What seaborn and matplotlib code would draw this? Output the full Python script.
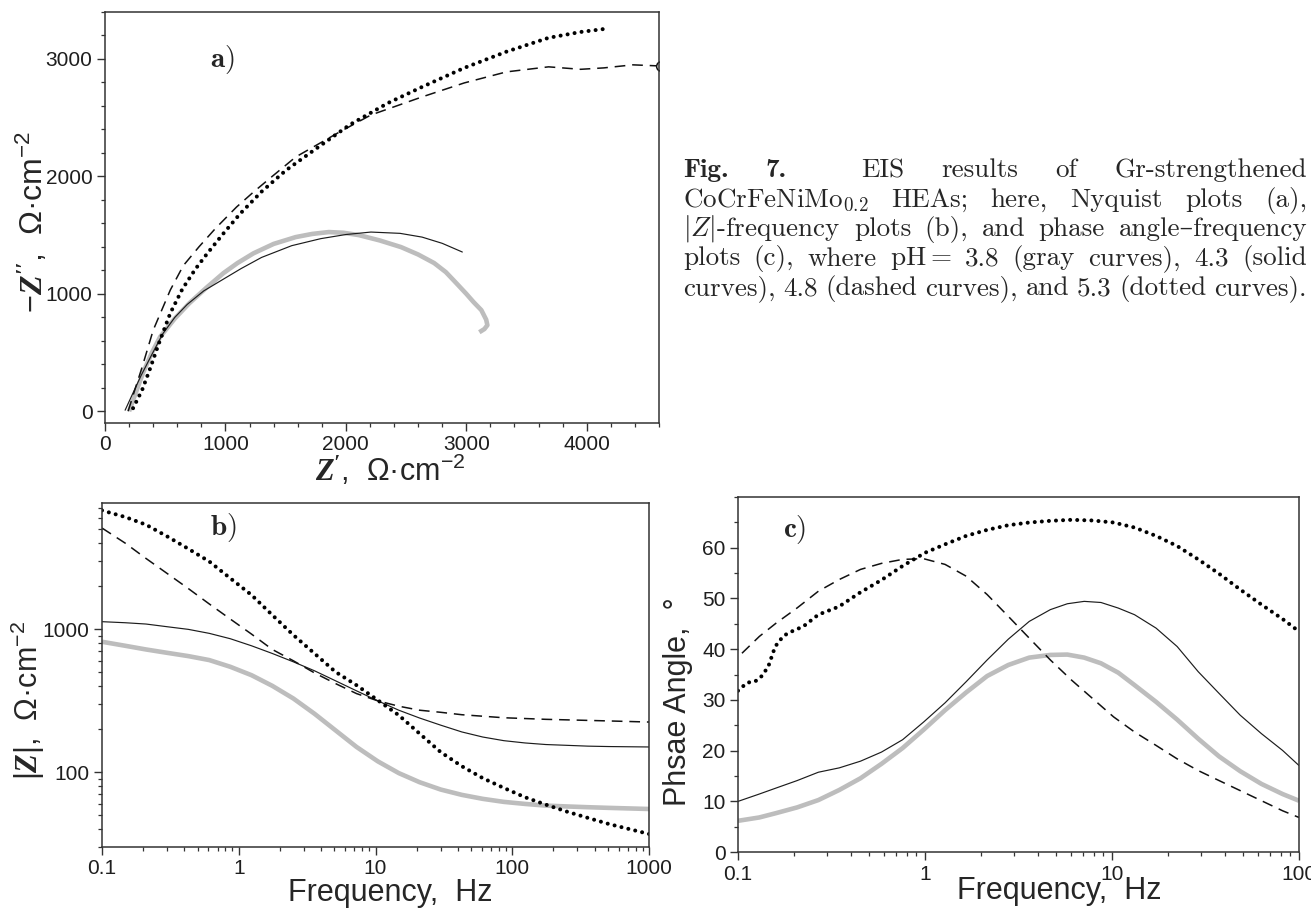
import matplotlib
matplotlib.use("Agg")
import matplotlib.pyplot as plt
import matplotlib.transforms as mtransforms
from matplotlib.ticker import MultipleLocator, LogLocator, NullFormatter, FixedLocator, FixedFormatter
import pandas as pd
import seaborn as sns

W, H = 1311, 908

# ---------------- (a) Nyquist plots: Z' and -Z'' in Ohm*cm^-2 ----------------
nyq_38_re = [200, 260, 317, 390, 458, 580, 700, 840, 983, 1100, 1233, 1400, 1583, 1720, 1858, 1980, 2108,
             2280, 2458, 2600, 2733, 2830, 2917, 3000, 3060, 3125, 3165, 3175, 3150, 3108]
nyq_38_im = [0, 170, 330, 500, 634, 790, 920, 1050, 1176, 1262, 1345, 1425, 1483, 1510, 1526, 1520, 1500,
             1455, 1398, 1335, 1262, 1185, 1091, 1000, 930, 861, 780, 733, 700, 673]

nyq_43_re = [167, 230, 300, 390, 480, 580, 683, 820, 970, 1130, 1300, 1550, 1792, 2000, 2208, 2450, 2633, 2800, 2967]
nyq_43_im = [9, 150, 305, 485, 660, 800, 910, 1025, 1117, 1215, 1310, 1410, 1470, 1505, 1526, 1515, 1483, 1430, 1356]

nyq_48_re = [192, 250, 308, 400, 542, 650, 780, 920, 1092, 1233, 1400, 1583, 1933, 2208, 2633, 2983, 3333,
             3683, 3950, 4142, 4383, 4620]
nyq_48_im = [0, 190, 375, 690, 1032, 1240, 1400, 1560, 1739, 1867, 2010, 2165, 2370, 2523, 2677, 2796, 2890,
             2933, 2912, 2924, 2950, 2940]

nyq_53_re = [233, 308, 375, 442, 542, 642, 750, 850, 980, 1120, 1300, 1500, 1717, 2033, 2350, 2633, 2983,
             3333, 3683, 3950, 4150]
nyq_53_im = [26, 180, 365, 563, 835, 1040, 1210, 1345, 1510, 1680, 1870, 2050, 2210, 2440, 2625, 2762, 2924,
             3062, 3180, 3230, 3256]

# ---------------- (b) |Z| vs frequency ----------------
bode_f = [0.1, 0.148, 0.210, 0.300, 0.428, 0.609, 0.867, 1.24, 1.76, 2.51, 3.58, 5.10, 7.27, 10.4, 14.8,
          21.0, 30.0, 42.8, 60.9, 86.8, 124, 176, 251, 358, 510, 1000]
bode_38_z = [815, 764, 720, 682, 647, 607, 545, 476, 401, 327, 256, 196, 150, 119, 98.5,
             85.1, 75.6, 69.4, 65.1, 62.0, 60.0, 58.4, 57.6, 56.9, 56.3, 55.3]
bode_43_z = [1126, 1107, 1084, 1038, 995, 933, 856, 764, 675, 590, 511, 435, 370, 315, 271,
             239, 213, 191, 176, 166, 160, 156, 154, 152, 151, 150]
bode_48_z = [5080, 3981, 3112, 2443, 1918, 1497, 1175, 922, 720, 600, 494, 416, 354, 315, 289,
             271, 262, 252, 246, 240, 237, 234, 232, 230, 228, 224]
bode_53_z = [6745, 6063, 5358, 4437, 3636, 2965, 2265, 1730, 1253, 908, 675, 502, 405, 318, 250,
             186, 138, 110, 90.8, 77.6, 66.8, 59.3, 53.0, 47.9, 43.4, 37.0]

# ---------------- (c) phase angle vs frequency ----------------
phase_f = [0.1, 0.130, 0.160, 0.207, 0.269, 0.348, 0.452, 0.585, 0.759, 0.984, 1.28, 1.66, 2.15, 2.79,
           3.61, 4.68, 5.77, 7.10, 8.73, 10.8, 13.2, 17.2, 22.3, 28.9, 37.4, 48.5, 63.0, 81.7, 100]
phase_38_p = [6.15, 6.81, 7.67, 8.79, 10.24, 12.23, 14.54, 17.38, 20.49, 24.12, 27.96, 31.46, 34.70, 36.88,
              38.33, 38.86, 38.93, 38.33, 37.21, 35.36, 32.91, 29.61, 26.11, 22.34, 18.84, 15.93, 13.42,
              11.43, 10.11]
phase_43_p = [9.98, 11.43, 12.62, 14.08, 15.73, 16.59, 17.91, 19.70, 22.14, 25.64, 29.41, 33.58, 37.87, 41.97,
              45.47, 47.79, 48.95, 49.42, 49.20, 48.10, 46.79, 44.15, 40.52, 35.56, 31.26, 26.97, 23.33,
              20.03, 17.05]

phase_48_f = [0.105, 0.130, 0.160, 0.207, 0.269, 0.348, 0.452, 0.585, 0.759, 0.984, 1.28, 1.66, 2.15, 2.79,
              3.61, 4.68, 6.07, 7.87, 10.2, 13.2, 17.2, 22.3, 28.9, 37.4, 48.5, 63.0, 81.7, 100]
phase_48_p = [39.19, 42.50, 45.14, 48.12, 51.42, 53.73, 55.72, 56.91, 57.70, 57.83, 56.71, 54.39, 50.76, 46.46,
              42.17, 37.87, 33.91, 30.27, 26.64, 23.66, 21.02, 18.37, 16.06, 14.08, 12.10, 10.11, 8.13, 6.81]

phase_53_f = [0.1, 0.112, 0.123, 0.132, 0.145, 0.158, 0.174, 0.186, 0.224, 0.269, 0.347, 0.447, 0.589, 0.759,
              1.0, 1.28, 1.66, 2.15, 2.79, 3.61, 4.68, 6.07, 7.87, 10.2, 13.2, 17.2, 22.3, 28.9, 37.4,
              48.5, 63.0, 81.7, 100]
phase_53_p = [31.8, 33.4, 33.6, 34.4, 36.5, 40.5, 42.5, 43.2, 44.5, 46.8, 48.4, 51.1, 53.7, 56.4,
              59.0, 60.67, 62.33, 63.52, 64.44, 64.97, 65.30, 65.50, 65.37, 64.97, 63.98, 62.33, 60.34,
              57.70, 54.86, 51.75, 48.78, 45.94, 43.49]

# tick labels
freq_ticks_b = [0.1, 1, 10, 100, 1000]
freq_labels_b = ["0.1", "1", "10", "100", "1000"]
z_ticks_b = [100, 1000]
z_labels_b = ["100", "1000"]
freq_ticks_c = [0.1, 1, 10, 100]
freq_labels_c = ["0.1", "1", "10", "100"]
phase_ticks_c = [0, 10, 20, 30, 40, 50, 60]

# caption
caption_lines = [
    ["Fig.", "7.", "", "EIS", "results", "of", "Gr-strengthened"],
    ["CoCrFeNiMo$_{0.2}$", "HEAs;", "here,", "Nyquist", "plots", "(a),"],
    ["$|Z|$-frequency", "plots", "(b),", "and", "phase", "angle–frequency"],
    ["plots", "(c),", "where", "pH$=$", "3.8", "(gray", "curves),", "4.3", "(solid"],
    ["curves),", "4.8", "(dashed", "curves),", "and", "5.3", "(dotted", "curves)."],
]
caption_bold = {"Fig.", "7."}

# ---------------- styling ----------------
sns.set_style("ticks")
plt.rcParams.update({
    "mathtext.fontset": "custom",
    "mathtext.rm": "Liberation Sans",
    "mathtext.it": "Liberation Sans:italic",
    "mathtext.bf": "Liberation Serif:italic:bold",
    "axes.edgecolor": "#333333",
    "axes.linewidth": 1.1,
    "xtick.color": "#333333",
    "ytick.color": "#333333",
    "xtick.labelcolor": "#1e1e1e",
    "ytick.labelcolor": "#1e1e1e",
})
plt.rcParams["font.family"] = ["Liberation Sans", "DejaVu Sans"]

STYLE_GRAY = dict(color="#bdbdbd", lw=3.3, solid_capstyle="butt", solid_joinstyle="round")
STYLE_SOLID = dict(color="#1c1c1c", lw=0.85)
STYLE_DASH = dict(color="#111111", lw=1.1, linestyle=(0, (7, 4.5)))
STYLE_DOT = dict(color="#000000", lw=2.9, linestyle=(0, (0.01, 1.75)), dash_capstyle="round")

TICK_SIZE = 15
LABEL_SIZE = 22

fig = plt.figure(figsize=(W / 100, H / 100), dpi=100)


def add_axes_px(left, right, top, bottom):
    return fig.add_axes([left / W, 1 - bottom / H, (right - left) / W, (bottom - top) / H])


def label_at(ax, axis, x_px, y_px):
    """Place an axis label with its centre at the given pixel location."""
    pos = ax.get_position()
    xf = (x_px / W - pos.x0) / pos.width
    yf = ((1 - y_px / H) - pos.y0) / pos.height
    lab = ax.xaxis if axis == "x" else ax.yaxis
    lab.set_label_coords(xf, yf)
    lab.label.set_va("center")
    lab.label.set_ha("center")


def draw(ax, x, y, style, **extra):
    df = pd.DataFrame({"x": x, "y": y})
    sns.lineplot(data=df, x="x", y="y", ax=ax, sort=False, estimator=None,
                 legend=False, **style, **extra)


def style_ticks(ax):
    ax.tick_params(which="major", direction="out", length=6, width=1.0, labelsize=TICK_SIZE, pad=3)
    ax.tick_params(which="minor", direction="out", length=3.2, width=0.9)
    for s in ax.spines.values():
        s.set_visible(True)


def log_freq_axis(ax, ticks, labels):
    ax.set_xscale("log")
    ax.xaxis.set_major_locator(FixedLocator(ticks))
    ax.xaxis.set_major_formatter(FixedFormatter(labels))
    ax.xaxis.set_minor_locator(LogLocator(base=10, subs=range(2, 10)))
    ax.xaxis.set_minor_formatter(NullFormatter())


# ---------------- panel (a) ----------------
ax_a = add_axes_px(105, 659, 12, 423)
draw(ax_a, nyq_38_re, nyq_38_im, STYLE_GRAY)
draw(ax_a, nyq_43_re, nyq_43_im, STYLE_SOLID)
draw(ax_a, nyq_48_re, nyq_48_im, STYLE_DASH, marker="o", markevery=[len(nyq_48_re) - 1],
     ms=7, mfc="white", mec="#111111", mew=1.1)
draw(ax_a, nyq_53_re, nyq_53_im, STYLE_DOT)
ax_a.set_xlim(0, 4600)
ax_a.set_ylim(-100, 3400)
ax_a.xaxis.set_major_locator(MultipleLocator(1000))
ax_a.xaxis.set_minor_locator(MultipleLocator(200))
ax_a.yaxis.set_major_locator(MultipleLocator(1000))
ax_a.yaxis.set_minor_locator(MultipleLocator(200))
style_ticks(ax_a)
ax_a.set_xlabel(r"$\mathbf{Z'}$,  Ω·cm$^{-2}$", fontsize=LABEL_SIZE)
ax_a.set_ylabel(r"$\mathbf{-Z''}$,  Ω·cm$^{-2}$", fontsize=LABEL_SIZE + 1)
label_at(ax_a, "x", 390, 470)
label_at(ax_a, "y", 32, 222)

# ---------------- panel (b) ----------------
ax_b = add_axes_px(102, 649, 503, 847)
draw(ax_b, bode_f, bode_38_z, STYLE_GRAY)
draw(ax_b, bode_f, bode_43_z, STYLE_SOLID)
draw(ax_b, bode_f, bode_48_z, STYLE_DASH)
draw(ax_b, bode_f, bode_53_z, STYLE_DOT)
log_freq_axis(ax_b, freq_ticks_b, freq_labels_b)
ax_b.set_yscale("log")
ax_b.set_xlim(0.1, 1000)
ax_b.set_ylim(30, 7600)
ax_b.yaxis.set_major_locator(FixedLocator(z_ticks_b))
ax_b.yaxis.set_major_formatter(FixedFormatter(z_labels_b))
ax_b.yaxis.set_minor_locator(LogLocator(base=10, subs=range(2, 10)))
ax_b.yaxis.set_minor_formatter(NullFormatter())
style_ticks(ax_b)
ax_b.set_xlabel("Frequency,  Hz", fontsize=LABEL_SIZE)
ax_b.set_ylabel(r"|$\mathbf{Z}$|,  Ω·cm$^{-2}$", fontsize=LABEL_SIZE)
label_at(ax_b, "x", 390, 893)
label_at(ax_b, "y", 28, 700)

# ---------------- panel (c) ----------------
ax_c = add_axes_px(738, 1299, 497, 852)
draw(ax_c, phase_f, phase_38_p, STYLE_GRAY)
draw(ax_c, phase_f, phase_43_p, STYLE_SOLID)
draw(ax_c, phase_48_f, phase_48_p, STYLE_DASH)
draw(ax_c, phase_53_f, phase_53_p, STYLE_DOT)
log_freq_axis(ax_c, freq_ticks_c, freq_labels_c)
ax_c.set_xlim(0.1, 100)
ax_c.set_ylim(0, 70)
ax_c.yaxis.set_major_locator(FixedLocator(phase_ticks_c))
ax_c.yaxis.set_minor_locator(MultipleLocator(5))
style_ticks(ax_c)
ax_c.set_xlabel("Frequency,  Hz", fontsize=LABEL_SIZE)
ax_c.set_ylabel("Phsae Angle,  °", fontsize=LABEL_SIZE)
label_at(ax_c, "x", 1059, 891)
label_at(ax_c, "y", 678, 702)

# ---------------- panel letters ----------------
px = mtransforms.IdentityTransform()
for letter, (lx, ly) in zip(["a", "b", "c"], [(222, 59), (223, 527), (795, 530)]):
    fig.text(lx, H - ly, r"$\mathbf{%s}$)" % letter, transform=px, ha="center", va="center",
             family=["cmr10", "DejaVu Serif"], math_fontfamily="cm", fontsize=21)

# ---------------- caption (justified) ----------------
CAP_X0, CAP_X1 = 683, 1307
cap_baselines = [177, 206.5, 236, 265.5, 295]
renderer = fig.canvas.get_renderer()
for words, base in zip(caption_lines, cap_baselines):
    texts, widths = [], []
    for w in words:
        fam = ["cmb10", "DejaVu Serif"] if w in caption_bold else ["cmr10", "DejaVu Serif"]
        t = fig.text(0, H - base, w, transform=px, ha="left", va="baseline",
                     family=fam, math_fontfamily="cm", fontsize=19.5)
        texts.append(t)
        widths.append(t.get_window_extent(renderer).width if w else 0.0)
    gap = (CAP_X1 - CAP_X0 - sum(widths)) / (len(words) - 1)
    x = CAP_X0
    for t, wd in zip(texts, widths):
        t.set_x(x)
        x += wd + gap

fig.savefig("out.png", dpi=100)
